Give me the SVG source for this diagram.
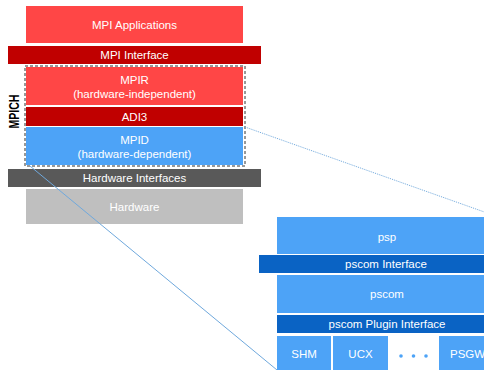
<svg xmlns="http://www.w3.org/2000/svg" width="484" height="370" viewBox="0 0 484 370">
<style>
text{font-family:"Liberation Sans",Arial,sans-serif;fill:#fff;text-anchor:middle;font-size:11.5px}
.lr{fill:#FF4646}.dr{fill:#C00000}.lb{fill:#4DA3F7}.db{fill:#0A63C4}
.dg{fill:#595959}.lg{fill:#BFBFBF}
</style>
<rect width="484" height="370" fill="#fff"/>
<g id="mpi-applications"><rect class="lr" x="26" y="6" width="217" height="37"/><text x="134.5" y="28.5">MPI Applications</text></g>
<g id="mpi-interface"><rect class="dr" x="8" y="46" width="253" height="18"/><text x="134.5" y="59">MPI Interface</text></g>
<g id="mpir"><rect class="lr" x="26" y="67" width="217" height="38"/><text x="134.5" y="84">MPIR</text><text x="134.5" y="98">(hardware-independent)</text></g>
<g id="adi3"><rect class="dr" x="26" y="107" width="217" height="19"/><text x="134.5" y="120.5">ADI3</text></g>
<g id="mpid"><rect class="lb" x="26" y="127" width="217" height="38"/><text x="134.5" y="144">MPID</text><text x="134.5" y="158">(hardware-dependent)</text></g>
<g id="mpich"><rect x="25" y="66" width="220" height="100" fill="none" stroke="#333" stroke-width="1" stroke-dasharray="3,2"/><text transform="translate(18.5,111.5) rotate(-90)" x="0" y="0" style="fill:#000;font-weight:bold;font-size:14px" textLength="34" lengthAdjust="spacingAndGlyphs">MPICH</text></g>
<g id="hardware-interfaces"><rect class="dg" x="8" y="169" width="253" height="18"/><text x="134.5" y="182">Hardware Interfaces</text></g>
<g id="hardware"><rect class="lg" x="26" y="189" width="217" height="35"/><text x="134.5" y="211">Hardware</text></g>
<g id="connectors" fill="none">
<line x1="245" y1="127" x2="490" y2="214" stroke="#6FA8DC" stroke-width="1" stroke-dasharray="1,1"/>
<line x1="30" y1="166" x2="277" y2="370" stroke="#6FA8DC" stroke-width="1"/>
</g>
<g id="psp"><rect class="lb" x="277" y="217" width="220" height="37"/><text x="387" y="241">psp</text></g>
<g id="pscom-interface"><rect class="db" x="259" y="255" width="230" height="18"/><text x="386" y="268">pscom Interface</text></g>
<g id="pscom"><rect class="lb" x="277" y="275" width="220" height="38"/><text x="387" y="298">pscom</text></g>
<g id="pscom-plugin-interface"><rect class="db" x="277" y="315" width="220" height="18"/><text x="387" y="328">pscom Plugin Interface</text></g>
<g id="shm"><rect class="lb" x="277" y="336" width="54" height="34"/><text x="304" y="358">SHM</text></g>
<g id="ucx"><rect class="lb" x="333" y="336" width="55" height="34"/><text x="360.5" y="358">UCX</text></g>
<g id="dots"><circle cx="401" cy="356" r="1.8" fill="#4DA3F7"/><circle cx="413.5" cy="356" r="1.8" fill="#4DA3F7"/><circle cx="426" cy="356" r="1.8" fill="#4DA3F7"/></g>
<g id="psgw"><rect class="lb" x="439" y="336" width="60" height="34"/><text x="450" y="358" style="text-anchor:start">PSGW</text></g>
</svg>
